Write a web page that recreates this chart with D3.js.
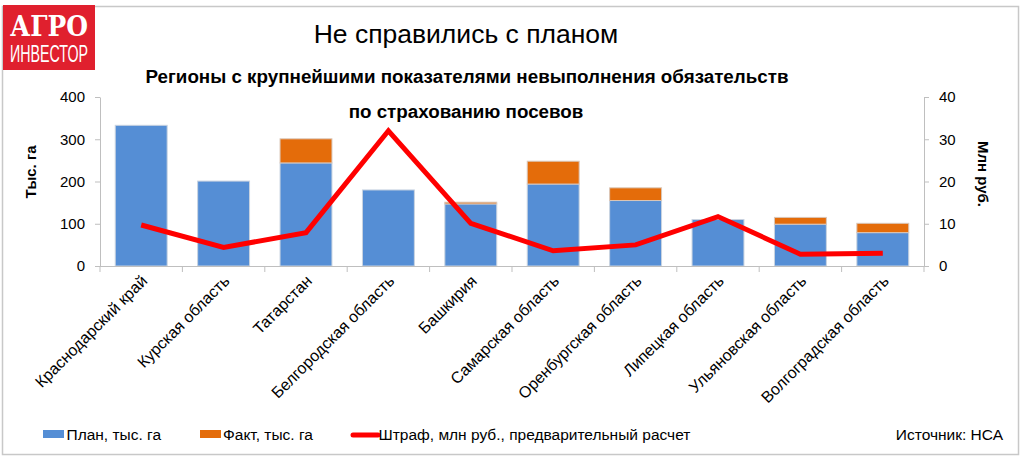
<!DOCTYPE html>
<html><head><meta charset="utf-8">
<script src="https://cdn.jsdelivr.net/npm/d3@7"></script>
<style>body{margin:0;background:#fff}svg{display:block;font-family:"Liberation Sans",Arial,sans-serif}</style>
</head><body><svg id="c" width="1023" height="457"></svg>
<script>
const categories = ["Краснодарский край","Курская область","Татарстан","Белгородская область","Башкирия","Самарская область","Оренбургская область","Липецкая область","Ульяновская область","Волгоградская область"];
const plan = [333, 201, 244, 180, 147, 194, 155, 110, 99, 79];
const fakt = [0, 0, 57, 0, 4, 54, 30, 0, 16, 22];
const fine = [9.7, 4.4, 7.9, 32, 10.1, 3.6, 5.0, 11.7, 2.8, 3.0];
const leftTicks = [0,100,200,300,400];
const rightTicks = [0,10,20,30,40];

const svg = d3.select("#c");
// frame
svg.append("rect").attr("x",2.5).attr("y",6.5).attr("width",1016).attr("height",448)
  .attr("fill","none").attr("stroke","#c8c8c8").attr("stroke-width",1.5);

const L=100,R=924,T=97,B=266;
const x = d3.scaleBand().domain(categories).range([L,R]).paddingInner(0.37).paddingOuter(0.185);
const y = d3.scaleLinear().domain([0,400]).range([B,T]);
const y2 = d3.scaleLinear().domain([0,40]).range([B,T]);

// bars
const g = svg.append("g");
categories.forEach((c,i)=>{
  g.append("rect").attr("x",x(c)).attr("width",x.bandwidth()).attr("y",y(plan[i])).attr("height",y(0)-y(plan[i]))
   .attr("fill","#558ED5").attr("stroke","#c9d3e0").attr("stroke-width",1);
  if(fakt[i]>0) g.append("rect").attr("x",x(c)).attr("width",x.bandwidth()).attr("y",y(plan[i]+fakt[i])).attr("height",y(plan[i])-y(plan[i]+fakt[i]))
   .attr("fill","#E46C0A").attr("stroke","#d9c6b8").attr("stroke-width",1);
});

// axes
const axStyle = s => { s.select(".domain").attr("stroke","#bfbfbf"); s.selectAll(".tick line").attr("stroke","#bfbfbf");
  s.selectAll("text").attr("font-size",15).attr("fill","#000").attr("font-family","Liberation Sans, Arial, sans-serif"); };
svg.append("g").attr("transform",`translate(${L},0)`).call(d3.axisLeft(y).tickValues(leftTicks).tickSize(5).tickSizeOuter(0).tickPadding(10)).call(axStyle);
svg.append("g").attr("transform",`translate(${R},0)`).call(d3.axisRight(y2).tickValues(rightTicks).tickSize(5).tickSizeOuter(0).tickPadding(10)).call(axStyle);

// x axis
const xa = svg.append("g");
xa.append("line").attr("x1",L).attr("x2",R).attr("y1",B+0.5).attr("y2",B+0.5).attr("stroke","#bfbfbf");
d3.range(categories.length+1).forEach(i=>{
  const xx = L + i*(R-L)/categories.length;
  xa.append("line").attr("x1",xx).attr("x2",xx).attr("y1",B).attr("y2",B+6).attr("stroke","#bfbfbf");
});
categories.forEach((c,i)=>{
  const cx = x(c)+x.bandwidth()/2;
  xa.append("text").attr("transform",`translate(${cx+7},${B+16}) rotate(-45)`).attr("text-anchor","end")
    .attr("font-size",16).attr("fill","#000").text(c);
});

// line
const line = d3.line().x((d,i)=>x(categories[i])+x.bandwidth()/2).y(d=>y2(d));
svg.append("path").datum(fine).attr("d",line).attr("fill","none").attr("stroke","#FF0000").attr("stroke-width",5).attr("stroke-linejoin","miter");

// axis titles
svg.append("text").attr("transform","translate(36,172) rotate(-90)").attr("text-anchor","middle").attr("font-size",15).attr("font-weight","bold").text("Тыс. га");
svg.append("text").attr("transform","translate(978,174) rotate(90)").attr("text-anchor","middle").attr("font-size",15).attr("font-weight","bold").text("Млн руб.");

// titles
svg.append("text").attr("x",466).attr("y",43).attr("text-anchor","middle").attr("font-size",26.5).text("Не справились с планом");
svg.append("text").attr("x",467).attr("y",83).attr("text-anchor","middle").attr("font-size",18.8).attr("font-weight","bold").text("Регионы с крупнейшими показателями невыполнения обязательств");
svg.append("text").attr("x",466).attr("y",118).attr("text-anchor","middle").attr("font-size",18.8).attr("font-weight","bold").text("по страхованию посевов");

// legend
const lg = svg.append("g").attr("font-size",15.5);
lg.append("rect").attr("x",43).attr("y",430).attr("width",21).attr("height",8).attr("fill","#558ED5");
lg.append("text").attr("x",66.5).attr("y",439.5).text("План, тыс. га");
lg.append("rect").attr("x",200).attr("y",430).attr("width",21).attr("height",8).attr("fill","#E46C0A");
lg.append("text").attr("x",223).attr("y",439.5).text("Факт, тыс. га");
lg.append("line").attr("x1",353).attr("x2",378).attr("y1",435).attr("y2",435).attr("stroke","#FF0000").attr("stroke-width",5).attr("stroke-linecap","round");
lg.append("text").attr("x",378.5).attr("y",439.5).text("Штраф, млн руб., предварительный расчет");
lg.append("text").attr("x",1003).attr("y",439.5).attr("text-anchor","end").text("Источник: НСА");

// logo
const logo = svg.append("g");
logo.append("rect").attr("x",3).attr("y",5).attr("width",92).attr("height",65).attr("fill","#E0202E");
logo.append("text").attr("x",49).attr("y",36).attr("text-anchor","middle").attr("fill","#fff").attr("font-size",27).attr("font-weight","bold")
  .attr("font-family","DejaVu Serif, serif").attr("textLength",78).attr("lengthAdjust","spacingAndGlyphs").text("АГРО");
logo.append("text").attr("x",49).attr("y",62).attr("text-anchor","middle").attr("fill","#fff").attr("font-size",24)
  .attr("font-family","Liberation Sans Narrow, Liberation Sans, sans-serif").attr("textLength",78).attr("lengthAdjust","spacingAndGlyphs").text("ИНВЕСТОР");
</script></body></html>
